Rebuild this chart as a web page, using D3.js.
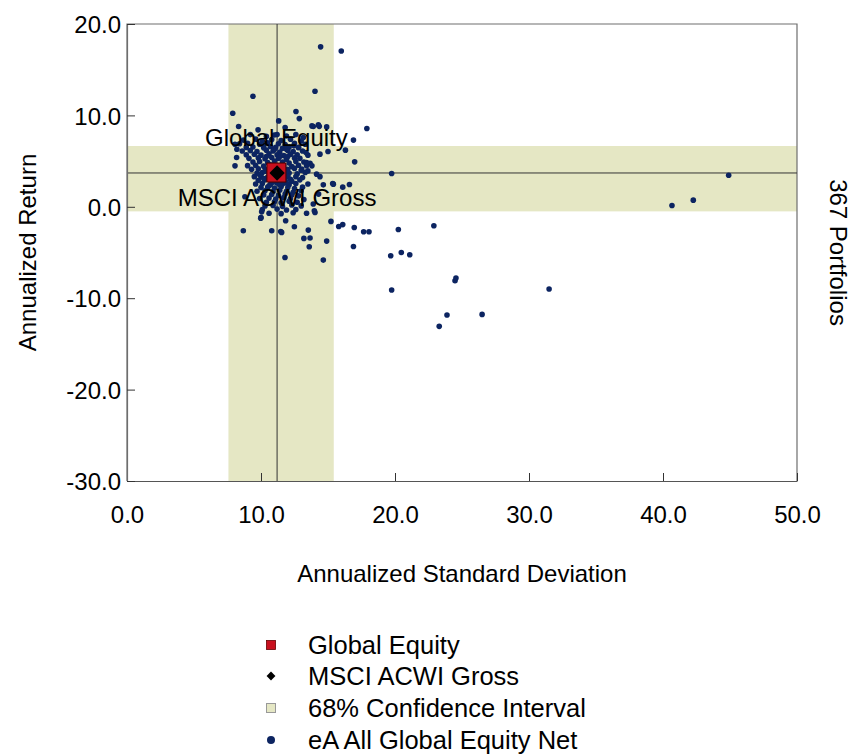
<!DOCTYPE html>
<html>
<head>
<meta charset="utf-8">
<script src="https://cdn.jsdelivr.net/npm/d3@7"></script>
<style>
  body { margin: 0; background: #fff; }
  svg text { font-family: "Liberation Sans", Arial, sans-serif; fill: #000; }
</style>
</head>
<body>
<svg id="svg" width="852" height="754"></svg>
<script>
// ── Data ──────────────────────────────────────────────────────────────────────

const xTicks = [0, 10, 20, 30, 40, 50];
const yTicks = [20, 10, 0, -10, -20, -30];

const globalEquity = { name: 'Global Equity', sd: 11.15, ret: 3.75 };
const msciAcwi     = { name: 'MSCI ACWI Gross', sd: 11.2, ret: 3.7 };

// 68% confidence interval: [low, high]
const confSD  = [7.57, 15.43];
const confRet = [-0.5, 6.65];

const portfolioCount = 367;

// eA All Global Equity Net: [annualized std dev, annualized return]
const portfolios = [
  // dense core
  [9.2,7.9],[10.4,7.7],[11.0,7.85],[11.9,7.75],[12.6,7.9],
  [8.7,7.3],[9.6,7.4],[10.1,7.2],[10.8,7.35],[11.5,7.25],[12.2,7.4],[13.0,7.2],
  [8.4,6.9],[9.0,6.95],[9.9,6.85],[10.5,7.0],[11.3,6.9],[11.8,6.8],[12.5,6.95],[13.3,6.85],
  [8.9,6.5],[9.4,6.55],[10.2,6.45],[10.7,6.6],[11.1,6.5],[11.6,6.4],[12.1,6.55],[12.8,6.5],
  [8.6,6.1],[9.2,6.15],[9.7,6.05],[10.4,6.2],[10.9,6.1],[11.4,6.0],[12.0,6.15],[12.4,6.05],[13.1,6.1],
  [8.9,5.7],[9.5,5.75],[10.0,5.65],[10.6,5.8],[11.2,5.7],[11.7,5.6],[12.2,5.75],[12.7,5.7],[13.5,5.65],
  [9.1,5.3],[9.8,5.35],[10.3,5.25],[10.8,5.4],[11.3,5.3],[11.9,5.2],[12.5,5.35],[12.9,5.3],
  [9.4,4.9],[9.9,4.95],[10.5,4.85],[11.0,5.0],[11.6,4.9],[12.1,4.8],[12.6,4.95],[13.2,4.9],
  [9.0,4.5],[9.6,4.55],[10.2,4.45],[10.7,4.6],[11.7,4.5],[12.3,4.4],[12.8,4.55],[13.4,4.5],
  [9.3,4.1],[9.8,4.15],[10.4,4.05],[12.0,4.1],[12.5,4.2],[13.0,4.0],
  [9.7,3.7],[10.1,3.75],[10.6,3.65],[12.1,3.7],[12.7,3.6],[13.3,3.75],
  [9.5,3.3],[10.0,3.35],[10.5,3.25],[11.0,3.3],[11.5,3.2],[12.0,3.35],[12.6,3.3],[13.1,3.2],
  [9.8,2.9],[10.3,2.95],[10.8,2.85],[11.3,3.0],[11.8,2.9],[12.3,2.8],[12.9,2.95],
  [9.6,2.5],[10.1,2.55],[10.7,2.45],[11.2,2.6],[11.6,2.5],[12.1,2.4],[12.6,2.55],[13.5,2.5],
  [10.0,2.1],[10.5,2.15],[11.0,2.05],[11.5,2.2],[12.0,2.1],[12.5,2.0],[13.1,2.15],
  [9.7,1.7],[10.3,1.75],[10.9,1.65],[11.4,1.8],[11.9,1.7],[12.4,1.6],[13.0,1.75],
  [10.2,1.3],[10.8,1.35],[11.3,1.25],[11.8,1.4],[12.3,1.3],[12.8,1.2],
  [9.9,0.9],[10.6,0.95],[11.1,0.85],[11.7,1.0],[12.2,0.9],[13.2,0.8],
  [10.4,0.5],[11.0,0.55],[11.5,0.45],[12.1,0.6],[12.7,0.5],
  [10.3,0.1],[10.9,0.15],[11.6,0.05],[12.3,0.2],[13.0,0.1],
  [10.1,-0.3],[11.2,-0.25],[11.9,-0.35],[12.6,-0.3],
  [10.6,-0.7],[11.5,-0.75],[12.4,-0.65],[13.4,-0.7],
  [10.3,3.9],[10.8,4.2],[11.5,4.3],[11.9,3.9],[11.7,3.4],[10.9,2.7],[11.4,2.4],[10.6,2.3],
  [11.9,2.6],[12.2,3.0],[10.2,3.1],[9.9,3.5],[10.4,5.5],[11.4,5.5],[12.0,5.5],[10.2,6.7],
  [11.0,6.3],[11.9,6.3],
  // spread around the core
  [7.89,10.24],[12.61,10.42],[12.86,9.65],[11.32,9.4],[8.33,8.78],[9.78,8.42],[13.9,8.78],
  [14.28,8.96],[14.9,8.74],[17.9,8.56],[16.9,7.3],[16.3,6.2],[16.99,4.92],[19.75,3.64],
  [16.6,2.44],[16.1,2.15],[15.35,2.55],[14.4,3.3],[15.0,6.05],[14.4,5.76],[13.36,5.93],
  [13.66,4.77],[8.06,6.85],[8.06,4.48],[8.18,5.39],[8.2,6.3],[8.8,1.1],[11.2,7.9],
  [13.8,8.85],[14.35,8.8],[12.46,6.67],[12.8,6.48],[13.16,7.57],[11.8,8.67],[13.4,4.84],
  [13.8,4.48],[13.04,4.12],[13.5,3.93],[14.15,3.57],[15.4,2.48],[14.65,2.4],[14.3,1.39],
  [13.9,0.3],[14.03,-0.62],[13.98,-0.44],[10.0,-1.17],[10.05,-0.55],
  [8.68,-2.62],[9.98,-1.24],[10.8,-2.62],[11.47,-2.7],[11.84,-1.53],[12.49,-2.19],
  [11.54,-2.8],[13.53,-2.55],[13.2,-3.46],[13.66,-3.42],[13.6,-4.37],[14.9,-3.75],
  [14.65,-5.83],[11.79,-5.54],[15.22,-1.6],[15.8,-2.15],[16.1,-1.95],[16.96,-2.26],
  [17.66,-2.73],[18.06,-2.73],[20.25,-2.48],[22.9,-2.08],[16.9,-4.34],[19.68,-5.36],
  [20.47,-5.0],[21.1,-5.25],[24.48,-8.09],[24.55,-7.8],[19.75,-9.1],[31.5,-9.0],
  [23.88,-11.84],[26.5,-11.77],[23.3,-13.08],
  // high-return / high-risk outliers
  [14.45,17.5],[15.99,17.05],[9.4,12.1],[14.03,12.64],
  [44.9,3.46],[42.26,0.73],[40.67,0.15]
];

const legendItems = ['Global Equity', 'MSCI ACWI Gross', '68% Confidence Interval', 'eA All Global Equity Net'];

// ── Layout ────────────────────────────────────────────────────────────────────

const plot = { left: 127, right: 797, top: 24, bottom: 481 };
const BAND = '#e5e7c4';
const DOT  = '#0c2461';
const fmt  = d => d.toFixed(1);   // plain hyphen minus, like the original

const svg = d3.select('#svg');

const x = d3.scaleLinear().domain([0, 50]).range([plot.left, plot.right]);
const y = d3.scaleLinear().domain([-30, 20]).range([plot.bottom, plot.top]);

const g = svg.append('g');

// confidence bands
g.append('rect')
  .attr('x', x(confSD[0])).attr('y', plot.top)
  .attr('width', x(confSD[1]) - x(confSD[0])).attr('height', plot.bottom - plot.top)
  .attr('fill', BAND);
g.append('rect')
  .attr('x', plot.left).attr('y', y(confRet[1]))
  .attr('width', plot.right - plot.left).attr('height', y(confRet[0]) - y(confRet[1]))
  .attr('fill', BAND);

// frame (top, right, left)
g.append('path')
  .attr('d', `M${plot.left},${plot.bottom}V${plot.top}H${plot.right}V${plot.bottom}`)
  .attr('fill', 'none').attr('stroke', '#6e6e6e').attr('stroke-width', 1.2);

// benchmark cross-hair
g.append('line')
  .attr('x1', x(msciAcwi.sd)).attr('x2', x(msciAcwi.sd))
  .attr('y1', plot.top).attr('y2', plot.bottom)
  .attr('stroke', '#333').attr('stroke-width', 1);
g.append('line')
  .attr('x1', plot.left).attr('x2', plot.right)
  .attr('y1', y(msciAcwi.ret)).attr('y2', y(msciAcwi.ret))
  .attr('stroke', '#333').attr('stroke-width', 1);

// ── Axes ──────────────────────────────────────────────────────────────────────

const xAxis = g.append('g')
  .attr('transform', `translate(0,${plot.bottom})`)
  .call(d3.axisBottom(x).tickValues(xTicks).tickSizeInner(-8).tickSizeOuter(0).tickFormat(fmt));
xAxis.select('.domain').attr('stroke', '#555').attr('stroke-width', 1.2);
xAxis.selectAll('.tick line').attr('stroke', '#333');
xAxis.selectAll('.tick text').attr('y', 42).attr('dy', 0)
  .style('font-size', '24px');

const yAxis = g.append('g')
  .attr('transform', `translate(${plot.left},0)`)
  .call(d3.axisLeft(y).tickValues(yTicks).tickSizeInner(-8).tickSizeOuter(0).tickFormat(fmt));
yAxis.select('.domain').attr('stroke', '#6e6e6e').attr('stroke-width', 1.2);
yAxis.selectAll('.tick line').attr('stroke', '#333');
yAxis.selectAll('.tick text').attr('x', -6).attr('dy', '0.36em')
  .style('font-size', '24px');

svg.append('text')
  .attr('x', (plot.left + plot.right) / 2).attr('y', 582)
  .attr('text-anchor', 'middle').style('font-size', '24px')
  .text('Annualized Standard Deviation');

svg.append('text')
  .attr('transform', `translate(36,${(plot.top + plot.bottom) / 2}) rotate(-90)`)
  .attr('text-anchor', 'middle').style('font-size', '24px')
  .text('Annualized Return');

svg.append('text')
  .attr('transform', `translate(830,${(plot.top + plot.bottom) / 2}) rotate(90)`)
  .attr('text-anchor', 'middle').style('font-size', '24px')
  .text(`${portfolioCount} Portfolios`);

// ── Points ────────────────────────────────────────────────────────────────────

g.selectAll('.pt')
  .data(portfolios)
  .join('circle')
  .attr('class', 'pt')
  .attr('cx', d => x(d[0])).attr('cy', d => y(d[1]))
  .attr('r', 2.8)
  .attr('fill', DOT);

// labels
g.append('text')
  .attr('x', x(globalEquity.sd)).attr('y', y(globalEquity.ret) - 27)
  .attr('text-anchor', 'middle').style('font-size', '24px')
  .text(globalEquity.name);
g.append('text')
  .attr('x', x(msciAcwi.sd)).attr('y', y(msciAcwi.ret) + 33)
  .attr('text-anchor', 'middle').style('font-size', '24px')
  .text(msciAcwi.name);

// Global Equity square + MSCI diamond
g.append('rect')
  .attr('x', x(globalEquity.sd) - 9.5).attr('y', y(globalEquity.ret) - 9.5)
  .attr('width', 19).attr('height', 19)
  .attr('fill', '#c8101e').attr('stroke', '#4a0000').attr('stroke-width', 1);
g.append('path')
  .attr('d', d3.symbol(d3.symbolDiamond2, 150)())
  .attr('transform', `translate(${x(msciAcwi.sd)},${y(msciAcwi.ret)})`)
  .attr('fill', '#000');

// ── Legend ────────────────────────────────────────────────────────────────────

const legendY = [645, 676, 708, 740];
const leg = svg.append('g');

legendItems.forEach((name, i) => {
  const row = leg.append('g').attr('transform', `translate(271,${legendY[i]})`);
  if (i === 0) {
    row.append('rect').attr('x', -4.5).attr('y', -4.5).attr('width', 9).attr('height', 9)
      .attr('fill', '#c8101e').attr('stroke', '#600').attr('stroke-width', 0.8);
  } else if (i === 1) {
    row.append('path').attr('d', d3.symbol(d3.symbolDiamond2, 50)()).attr('fill', '#000');
  } else if (i === 2) {
    row.append('rect').attr('x', -4.5).attr('y', -4.5).attr('width', 9).attr('height', 9)
      .attr('fill', BAND).attr('stroke', '#999').attr('stroke-width', 1);
  } else {
    row.append('circle').attr('r', 4).attr('fill', DOT);
  }
  row.append('text').attr('x', 37).attr('dy', '0.36em')
    .style('font-size', '25.5px').text(name);
});
</script>
</body>
</html>
